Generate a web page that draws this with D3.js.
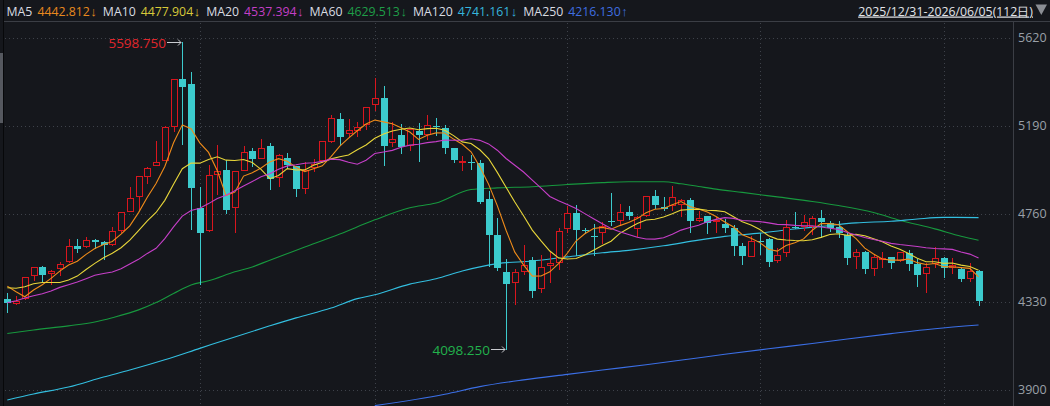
<!DOCTYPE html>
<html><head><meta charset="utf-8">
<script src="https://cdn.jsdelivr.net/npm/d3@7"></script>
<style>
html,body{margin:0;padding:0;background:#15171c;overflow:hidden}
svg{display:block}
text{font-family:"Open Sans","Noto Sans",sans-serif}
</style></head><body>
<svg id="c" width="1050" height="406"></svg>
<script>
// ---- data ----
const opens = [4343,4319,4341,4457,4498,4467,4488,4525,4602,4595, 4631,4622,4605,4677,4770,4840,4941,4994,5019,5185,
 5416,5394,4786,4675,4949,4973,4786,4970,5066,5029, 5091,4933,5030,4993,4882,4985,5016,5112,5221,5148,
 5166,5192,5289,5325,5107,5144,5091,5166,5144,5188, 5177,5079,5011,5014,5009,4832,4656,4475,4423,4477,
 4534,4390,4503,4521,4684,4762,4680,4652,4664,4724, 4726,4768,4687,4749,4846,4791,4799,4802,4827,4726,
 4749,4721,4708,4688,4602,4550,4627,4635,4530,4566, 4697,4693,4697,4737,4713,4693,4656,4550,4571,4488,
 4537,4547,4530,4566,4514,4464,4513,4542,4496,4490, 4441,4480];
const highs = [4374,4358,4452,4500,4504,4485,4525,4635,4635,4644, 4635,4626,4695,4770,4889,4946,4990,5115,5190,5418,
 5598.75,5451,4892,4998,5096,5022,4969,5091,5079,5125, 5104,5052,5056,4995,5011,5027,5117,5242,5254,5221,
 5210,5282,5425,5384,5210,5198,5175,5201,5242,5228, 5193,5081,5042,5045,5022,4871,4737,4537,4488,4607,
 4550,4558,4574,4688,4798,4802,4692,4710,4721,4863, 4807,4798,4749,4848,4876,4843,4895,4830,4835,4775,
 4751,4745,4732,4705,4618,4651,4664,4640,4591,4729, 4768,4754,4749,4778,4726,4724,4664,4586,4579,4558,
 4573,4547,4574,4583,4537,4517,4596,4550,4542,4496, 4521,4485];
const lows = [4281,4314,4338,4433,4428,4411,4455,4517,4574,4591, 4591,4537,4602,4664,4768,4778,4905,4992,5017,5161,
 5100,4685,4416,4672,4851,4765,4664,4968,4993,5026, 4881,4892,4982,4846,4856,4965,5010,5104,5096,5133,
 5136,5169,5262,4998,5084,5058,5068,5019,5120,5144, 5058,5014,4970,4980,4814,4506,4483,4098.25,4312,4460,
 4355,4374,4423,4485,4667,4558,4667,4558,4612,4705, 4705,4734,4648,4745,4786,4778,4775,4742,4672,4721,
 4667,4664,4672,4558,4514,4547,4563,4504,4521,4550, 4688,4677,4656,4648,4677,4648,4514,4488,4472,4457,
 4493,4496,4526,4485,4407,4374,4496,4452,4465,4431, 4428,4314];
const closes = [4322,4335,4449,4498,4460,4478,4512,4600,4587,4630, 4622,4607,4674,4767,4835,4944,4981,5011,5182,5416,
 5380,4887,4667,4947,4967,4778,4967,5060,5029,5082, 4928,5045,4998,4882,4973,5001,5115,5226,5136,5167,
 5182,5280,5324,5091,5123,5084,5172,5144,5192,5182, 5083,5022,5016,5009,4819,4657,4496,4415,4473,4509,
 4382,4498,4517,4675,4762,4680,4675,4648,4701,4718, 4767,4749,4745,4846,4802,4784,4840,4825,4726,4740,
 4713,4729,4688,4604,4553,4627,4622,4526,4557,4693, 4690,4718,4737,4721,4692,4664,4545,4571,4488,4547,
 4543,4517,4571,4513,4460,4498,4542,4493,4509,4441, 4480,4335];

// moving-average values at the start of the window
const ma5Head = [4406,4379,4354,4387];
const ma10Head = [4398,4396,4403,4418,4424,4424,4424,4436,4455];
const ma20Head = [4325,4335,4348,4359,4369,4382,4400,4413,4426,4442,4459,4468,4475,4491,4514,4537,4566,4591,4638];

// long moving averages (session index, value)
const ma60Idx = [0,3,7,10,12,15,17,19,21,23,26,28,30,34,38,42,46,49,53,56,60,64,68,71,75,77,79,81,84,88,92,95,99,102,106,109,111];
const ma60Val = [4175,4192,4212,4231,4252,4290,4326,4370,4412,4432,4476,4500,4533,4597,4661,4730,4789,4812,4878,4886,4892,4903,4912,4916,4916,4906,4893,4880,4864,4842,4820,4800,4766,4728,4686,4650,4630];
const ma120Idx = [0,3,7,11,14,18,22,26,30,33,37,40,42,46,49,52,56,60,64,68,71,75,79,82,86,90,93,97,101,104,107,111];
const ma120Val = [3850,3879,3913,3962,3996,4046,4102,4158,4212,4251,4299,4345,4364,4416,4442,4480,4516,4529,4549,4569,4581,4603,4631,4649,4665,4685,4698,4715,4723,4734,4742,4741];
const ma250Idx = [42,50,54,59,64,68,73,78,82,87,92,96,101,106,111];
const ma250Val = [3822,3878,3915,3948,3975,3996,4022,4050,4073,4100,4126,4148,4174,4198,4216];

const yTicks = [3900,4330,4760,5190,5620];
const monthStartIdx = [22,42,64,86,107];
const legendNames = ["MA5","MA10","MA20","MA60","MA120","MA250"];
const legendValues = ["4442.812","4477.904","4537.394","4629.513","4741.161","4216.130"];
const legendArrows = ["↓","↓","↓","↓","↓","↑"];
const rangeLabel = "2025/12/31-2026/06/05(112日)";

// ---- styles ----
const C = {
  bg:"#15171c", grid:"#3e424a", axis:"#3b3e45", label:"#9aa0a8",
  up:"#d9161e", down:"#3ccbcd",
  ma:["#f08c1a","#e8d63a","#c63fc8","#17983e","#33bfe0","#3b6fe6"],
  leg:["#e8891e","#d8c93a","#c33fc6","#1f9e48","#36b6dc","#3f6ee0"]
};

const svg = d3.select("#c");
svg.append("rect").attr("width",1050).attr("height",406).attr("fill",C.bg);

const n = closes.length;
const x = d3.scaleLinear().domain([0, n-1]).range([7.3, 978.55]);
const y = d3.scaleLinear().domain([3900, 5620]).range([389.7, 37.7]);

// clip
svg.append("clipPath").attr("id","plot").append("rect").attr("x",4).attr("y",22).attr("width",1009).attr("height",384);

// header separator, borders
svg.append("line").attr("x1",3).attr("x2",1050).attr("y1",21.5).attr("y2",21.5).attr("stroke",C.axis);
svg.append("line").attr("x1",3.5).attr("x2",3.5).attr("y1",0).attr("y2",406).attr("stroke","#07080a");
svg.append("rect").attr("x",0).attr("y",53).attr("width",3).attr("height",70).attr("fill","#55585f");

// horizontal grid
const g = svg.append("g");
g.selectAll("line.h").data(yTicks).join("line")
  .attr("x1",5).attr("x2",1017)
  .attr("y1",d=>Math.round(y(d))+0.5).attr("y2",d=>Math.round(y(d))+0.5)
  .attr("stroke",C.grid).attr("stroke-dasharray","1 3");
// vertical grid
g.selectAll("line.v").data(monthStartIdx).join("line")
  .attr("x1",d=>Math.round(x(d))+0.5).attr("x2",d=>Math.round(x(d))+0.5)
  .attr("y1",23).attr("y2",406)
  .attr("stroke",C.grid).attr("stroke-dasharray","1 3");

// right axis
svg.append("line").attr("x1",1013.5).attr("x2",1013.5).attr("y1",21).attr("y2",406).attr("stroke",C.axis);
const ax = svg.append("g").attr("transform","translate(1013,0)")
  .call(d3.axisRight(y).tickValues(yTicks).tickSize(0).tickPadding(5).tickFormat(d3.format("d")));
ax.select(".domain").remove();
ax.selectAll("text").attr("fill",C.label).attr("font-size","12.5px").attr("font-family","'Open Sans',sans-serif");

const plot = svg.append("g").attr("clip-path","url(#plot)");

// moving averages
function rolling(len, head){
  return closes.map((c,i)=> i < len-1 ? head[i] : d3.mean(closes.slice(i-len+1,i+1)));
}
const shortMAs = [rolling(5,ma5Head), rolling(10,ma10Head), rolling(20,ma20Head)];
const lineGen = d3.line().x(d=>x(d[0])).y(d=>y(d[1]));
const curveGen = d3.line().x(d=>x(d[0])).y(d=>y(d[1])).curve(d3.curveMonotoneX);
const longMAs = [[ma60Idx,ma60Val],[ma120Idx,ma120Val],[ma250Idx,ma250Val]];
longMAs.forEach((m,k)=>{
  plot.append("path").attr("d",curveGen(m[0].map((i,j)=>[i,m[1][j]])))
    .attr("fill","none").attr("stroke",C.ma[3+k]).attr("stroke-width",1.1);
});

// candles
const cg = plot.append("g").attr("shape-rendering","crispEdges");
d3.range(n).forEach(i=>{
  const cx = Math.round(x(i));
  const o=opens[i], c=closes[i], h=highs[i], l=lows[i];
  const up = c >= o;
  const top = Math.round(y(Math.max(o,c))), bot = Math.round(y(Math.min(o,c)));
  const yh = Math.round(y(h)), yl = Math.round(y(l));
  if(up){
    if(yh < top) cg.append("line").attr("x1",cx+0.5).attr("x2",cx+0.5).attr("y1",yh).attr("y2",top).attr("stroke",C.up);
    if(yl > bot) cg.append("line").attr("x1",cx+0.5).attr("x2",cx+0.5).attr("y1",bot).attr("y2",yl).attr("stroke",C.up);
    cg.append("rect").attr("x",cx-2.5).attr("y",top+0.5).attr("width",6).attr("height",Math.max(1,bot-top-1))
      .attr("fill",C.bg).attr("stroke",C.up);
  } else {
    cg.append("line").attr("x1",cx+0.5).attr("x2",cx+0.5).attr("y1",yh).attr("y2",yl+1).attr("stroke",C.down);
    cg.append("rect").attr("x",cx-3).attr("y",top).attr("width",7).attr("height",Math.max(1,bot-top))
      .attr("fill",C.down);
  }
});

shortMAs.forEach((vals,k)=>{
  plot.append("path").attr("d",lineGen(vals.map((v,i)=>[i,v])))
    .attr("fill","none").attr("stroke",C.ma[k]).attr("stroke-width",1.1);
});

// max / min annotations
const hiIdx = d3.maxIndex(highs), loIdx = d3.minIndex(lows);
function annot(idx, val, color){
  const cx = Math.round(x(idx)), yy = Math.round(y(val))+0.5;
  const a = svg.append("g");
  a.append("line").attr("x1",cx-15).attr("x2",cx-1).attr("y1",yy).attr("y2",yy).attr("stroke","#c9cbd0");
  a.append("path").attr("d",`M${cx-4},${yy-3}L${cx-1},${yy}L${cx-4},${yy+3}`).attr("fill","none").attr("stroke","#c9cbd0");
  a.append("text").attr("x",cx-16).attr("y",yy).attr("text-anchor","end").attr("dominant-baseline","central")
    .attr("fill",color).attr("font-size","13.5px")
    .attr("font-family","'Liberation Sans Narrow','DejaVu Sans Condensed',sans-serif")
    .text(d3.format(".3f")(val));
}
annot(hiIdx, highs[hiIdx], "#e0262c");
annot(loIdx, lows[loIdx], "#22b24c");

// legend
const leg = svg.append("g").attr("font-size","12.3px");
let lx = 6.5;
legendNames.forEach((nm,k)=>{
  const t1 = leg.append("text").attr("x",lx).attr("y",15.5).attr("fill","#d9dce2").text(nm);
  lx += t1.node().getComputedTextLength() + 5;
  const t2 = leg.append("text").attr("x",lx).attr("y",15.5).attr("fill",C.leg[k]).text(legendValues[k]);
  lx += t2.node().getComputedTextLength() + 0.5;
  const t3 = leg.append("text").attr("x",lx).attr("y",16).attr("fill",C.leg[k])
    .attr("font-family","'Liberation Sans',sans-serif").attr("font-size","13px").text(legendArrows[k]);
  lx += t3.node().getComputedTextLength() + 6;
});

// date range
svg.append("text").attr("x",1033).attr("y",15.5).attr("text-anchor","end")
  .attr("fill","#e2e4e8").attr("font-size","12.3px").attr("text-decoration","underline")
  .attr("font-family","'Open Sans','Noto Sans CJK SC',sans-serif").text(rangeLabel);
svg.append("path").attr("d","M1035.5,4.5L1047,4.5L1041.3,15Z").attr("fill","#8b8e94");
</script>
</body></html>
